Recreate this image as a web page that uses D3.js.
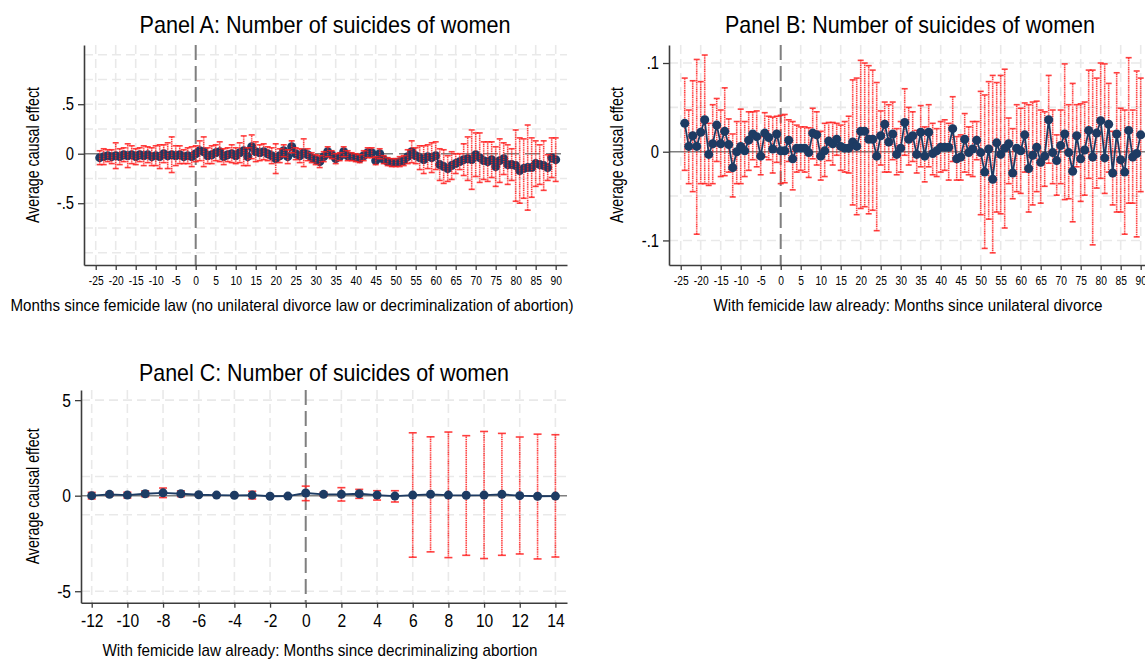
<!DOCTYPE html>
<html><head><meta charset="utf-8">
<script src="https://cdn.jsdelivr.net/npm/d3@7"></script>
<style>
body{margin:0;background:#fff}
svg text{font-family:"Liberation Sans",Arial,sans-serif;fill:#000}
</style></head><body>
<svg id="c" width="1145" height="659"></svg>
<script>
// ---------- Panel A data ----------
const monthsA = [-24,-23,-22,-21,-20,-19,-18,-17,-16,-15,-14,-13,-12,-11,-10,-9,-8,-7,-6,-5,-4,-3,-2,-1,0,1,2,3,4,5,6,7,8,9,10,11,12,13,14,15,16,17,18,19,20,21,22,23,24,25,26,27,28,29,30,31,32,33,34,35,36,37,38,39,40,41,42,43,44,45,46,47,48,49,50,51,52,53,54,55,56,57,58,59,60,61,62,63,64,65,66,67,68,69,70,71,72,73,74,75,76,77,78,79,80,81,82,83,84,85,86,87,88,89,90];
const estA = [-0.04,-0.03,-0.02,-0.03,-0.02,-0.03,-0.01,-0.02,-0.01,-0.03,-0.01,-0.02,-0.01,-0.03,-0.02,-0.03,0.00,-0.02,-0.01,-0.02,-0.01,-0.03,-0.02,-0.03,0.00,0.03,0.02,-0.02,-0.01,0.01,0.02,-0.03,-0.01,0.00,-0.02,0.01,0.03,-0.03,0.07,0.02,0.01,0.02,0.00,-0.02,-0.05,-0.02,0.03,-0.03,0.07,0.00,-0.02,0.01,-0.01,-0.04,-0.06,-0.08,-0.03,0.02,-0.01,-0.05,-0.03,0.02,-0.02,-0.03,-0.04,-0.05,-0.02,0.01,0.01,-0.07,0.00,-0.06,-0.08,-0.09,-0.09,-0.08,-0.07,-0.03,0.02,-0.02,-0.04,-0.06,-0.03,-0.04,-0.02,-0.11,-0.13,-0.15,-0.12,-0.10,-0.08,-0.06,-0.05,-0.06,-0.01,-0.04,-0.07,-0.08,-0.06,-0.13,-0.07,-0.05,-0.11,-0.11,-0.12,-0.17,-0.15,-0.14,-0.14,-0.10,-0.11,-0.12,-0.14,-0.04,-0.06];
const loA = [-0.11,-0.11,-0.08,-0.10,-0.15,-0.11,-0.08,-0.14,-0.10,-0.11,-0.08,-0.12,-0.09,-0.12,-0.12,-0.15,-0.09,-0.15,-0.19,-0.12,-0.10,-0.10,-0.10,-0.13,-0.08,-0.07,-0.13,-0.10,-0.10,-0.07,-0.08,-0.11,-0.08,-0.09,-0.10,-0.09,-0.12,-0.12,-0.05,-0.08,-0.07,-0.06,-0.07,-0.10,-0.20,-0.09,-0.03,-0.10,0.01,-0.06,-0.09,-0.13,-0.07,-0.09,-0.11,-0.14,-0.08,-0.03,-0.05,-0.10,-0.07,-0.03,-0.07,-0.07,-0.08,-0.09,-0.07,-0.04,-0.04,-0.11,-0.05,-0.10,-0.12,-0.13,-0.13,-0.13,-0.12,-0.10,-0.09,-0.10,-0.16,-0.20,-0.15,-0.19,-0.16,-0.27,-0.30,-0.28,-0.26,-0.20,-0.16,-0.22,-0.27,-0.36,-0.23,-0.29,-0.26,-0.28,-0.24,-0.33,-0.29,-0.21,-0.31,-0.27,-0.48,-0.50,-0.45,-0.57,-0.44,-0.33,-0.31,-0.37,-0.27,-0.24,-0.28];
const hiA = [0.03,0.05,0.04,0.04,0.11,0.05,0.06,0.10,0.08,0.05,0.06,0.08,0.07,0.06,0.08,0.09,0.09,0.11,0.17,0.08,0.08,0.04,0.06,0.07,0.08,0.13,0.17,0.06,0.08,0.09,0.12,0.05,0.06,0.09,0.06,0.11,0.18,0.06,0.19,0.12,0.09,0.10,0.07,0.06,0.10,0.05,0.09,0.04,0.13,0.06,0.05,0.15,0.05,0.01,-0.01,-0.02,0.02,0.07,0.03,0.00,0.01,0.07,0.03,0.01,0.00,-0.01,0.03,0.06,0.06,-0.03,0.05,-0.02,-0.04,-0.05,-0.05,-0.03,-0.02,0.04,0.13,0.06,0.08,0.08,0.09,0.11,0.12,0.05,0.04,-0.02,0.02,0.00,0.00,0.10,0.17,0.24,0.21,0.21,0.12,0.12,0.12,0.07,0.15,0.11,0.09,0.05,0.24,0.16,0.15,0.29,0.16,0.13,0.09,0.13,-0.01,0.16,0.16];
const xTicksA = [-25,-20,-15,-10,-5,0,5,10,15,20,25,30,35,40,45,50,55,60,65,70,75,80,85,90];
const yTicksA = [0.5,0,-0.5];
const yTickLabelsA = [".5","0","-.5"];
const yGridA = [1,0.75,0.5,0.25,-0.25,-0.5,-0.75,-1];

// ---------- Panel B data ----------
const monthsB = monthsA.slice();
const estB = [0.032,0.006,0.018,0.006,0.022,0.036,-0.003,0.009,0.030,0.009,0.023,0.008,-0.018,0.000,0.006,0.001,0.013,0.020,0.017,-0.005,0.021,0.016,0.003,0.020,0.001,0.001,0.013,-0.008,0.004,0.004,0.004,-0.001,0.021,0.019,-0.005,0.001,0.012,0.009,0.014,0.006,0.004,0.004,0.011,0.006,0.023,0.023,0.014,0.014,-0.005,0.018,0.031,0.011,0.020,-0.003,0.004,0.033,0.014,0.018,-0.003,0.022,-0.005,0.022,-0.002,0.001,0.005,0.005,0.005,0.026,-0.008,-0.006,0.014,-0.001,0.003,0.013,-0.001,-0.023,0.003,-0.031,0.010,-0.003,0.004,0.009,-0.024,0.004,0.001,0.019,-0.019,-0.004,0.005,-0.012,-0.005,0.036,-0.001,-0.010,0.007,0.020,-0.001,-0.022,0.018,-0.008,0.002,0.024,-0.006,0.021,0.035,-0.007,0.031,-0.024,0.020,-0.009,-0.023,0.024,-0.006,-0.002,0.019];
const loB = [-0.021,-0.036,-0.045,-0.093,-0.036,-0.036,-0.038,-0.036,-0.011,-0.028,-0.027,-0.023,-0.051,-0.036,-0.036,-0.028,-0.021,-0.009,-0.017,-0.026,-0.006,-0.009,-0.024,-0.012,-0.036,-0.035,-0.011,-0.043,-0.023,-0.021,-0.023,-0.029,-0.008,-0.015,-0.032,-0.028,-0.010,-0.015,-0.004,-0.021,-0.023,-0.024,-0.060,-0.071,-0.064,-0.062,-0.070,-0.066,-0.089,-0.015,-0.023,-0.023,-0.009,-0.026,-0.023,-0.004,-0.015,-0.011,-0.024,-0.017,-0.034,-0.017,-0.026,-0.028,-0.023,-0.021,-0.032,-0.011,-0.032,-0.032,-0.023,-0.026,-0.028,-0.009,-0.071,-0.109,-0.076,-0.114,-0.068,-0.070,-0.086,-0.036,-0.053,-0.045,-0.047,-0.023,-0.068,-0.060,-0.045,-0.058,-0.039,-0.013,-0.036,-0.049,-0.036,-0.054,-0.053,-0.079,-0.017,-0.056,-0.049,-0.030,-0.105,-0.041,-0.030,-0.047,-0.023,-0.060,-0.068,-0.068,-0.093,-0.058,-0.058,-0.096,-0.045];
const hiB = [0.083,0.047,0.080,0.104,0.079,0.109,0.032,0.053,0.060,0.047,0.072,0.037,0.020,0.034,0.048,0.034,0.045,0.045,0.046,0.017,0.044,0.040,0.039,0.040,0.041,0.042,0.036,0.034,0.030,0.028,0.028,0.027,0.049,0.045,0.023,0.032,0.033,0.033,0.032,0.030,0.034,0.040,0.081,0.083,0.103,0.100,0.097,0.092,0.078,0.046,0.056,0.053,0.056,0.026,0.034,0.071,0.050,0.045,0.024,0.052,0.028,0.053,0.032,0.026,0.034,0.036,0.032,0.062,0.017,0.019,0.043,0.028,0.034,0.034,0.068,0.064,0.079,0.086,0.078,0.086,0.093,0.038,0.026,0.053,0.049,0.055,0.053,0.056,0.057,0.047,0.045,0.086,0.047,0.019,0.047,0.099,0.053,0.077,0.053,0.054,0.056,0.092,0.092,0.083,0.100,0.099,0.077,0.023,0.089,0.049,0.047,0.106,0.047,0.091,0.083];
const xTicksB = xTicksA.slice();
const yTicksB = [0.1,0,-0.1];
const yTickLabelsB = [".1","0","-.1"];
const yGridB = [0.1,0.05,-0.05,-0.1];

// ---------- Panel C data ----------
const monthsC = [-12,-11,-10,-9,-8,-7,-6,-5,-4,-3,-2,-1,0,1,2,3,4,5,6,7,8,9,10,11,12,13,14];
const estC = [0.00,0.07,0.03,0.10,0.15,0.10,0.05,0.03,0.02,0.03,-0.03,-0.02,0.14,0.07,0.07,0.10,0.03,-0.02,0.03,0.07,0.03,0.02,0.03,0.07,0.00,-0.03,-0.02];
const loC = [-0.17,-0.03,-0.12,-0.05,-0.10,-0.05,0.00,-0.02,-0.03,-0.17,-0.10,-0.07,-0.26,-0.03,-0.28,-0.14,-0.23,-0.33,-3.22,-2.94,-3.24,-3.12,-3.29,-3.12,-3.05,-3.31,-3.21];
const hiC = [0.17,0.17,0.18,0.25,0.40,0.25,0.10,0.08,0.07,0.23,0.04,0.03,0.50,0.17,0.42,0.33,0.26,0.26,3.29,3.08,3.33,3.14,3.36,3.26,3.07,3.22,3.19];
const xTicksC = [-12,-10,-8,-6,-4,-2,0,2,4,6,8,10,12,14];
const yTicksC = [5,0,-5];
const yTickLabelsC = ["5","0","-5"];
const yGridC = [5,1,-1,-5];

const titles = ["Panel A: Number of suicides of women","Panel B: Number of suicides of women","Panel C: Number of suicides of women"];
const xTitles = ["Months since femicide law (no unilateral divorce law or decriminalization of abortion)",
  "With femicide law already: Months since unilateral divorce",
  "With femicide law already: Months since decriminalizing abortion"];
const yTitle = "Average causal effect";

const NAVY = "#1d3b63", RED = "#ff1f1f", AXIS = "#3c3c3c", GRID = "#e9e9e9", REF = "#7f7f7f";
const NARROW = 0.82;
const svg = d3.select("#c");

// emulate a narrow typeface by compressing glyphs horizontally
function narrow(sel, width){
  sel.each(function(){
    const w = width || this.getComputedTextLength() * NARROW;
    this.setAttribute("textLength", w);
    this.setAttribute("lengthAdjust", "spacingAndGlyphs");
  });
}

function panel(p){
  const g = svg.append("g");
  const x = d3.scaleLinear().domain(p.xDom).range(p.xRange);
  const y = d3.scaleLinear().domain(p.yDom).range(p.yRange);
  const top = p.yRange[1], bot = p.yRange[0];
  // grid
  g.selectAll(null).data(p.yGrid).enter().append("line")
    .attr("x1", p.xRange[0]).attr("x2", p.xRange[1])
    .attr("y1", d=>y(d)).attr("y2", d=>y(d))
    .attr("stroke", GRID).attr("stroke-width", 1.6).attr("stroke-dasharray", "9,5");
  g.selectAll(null).data(p.xTicks.filter(d=>d!==0)).enter().append("line")
    .attr("x1", d=>x(d)).attr("x2", d=>x(d)).attr("y1", top).attr("y2", bot)
    .attr("stroke", GRID).attr("stroke-width", 1.6).attr("stroke-dasharray", "9,5");
  // reference lines
  g.append("line").attr("x1", p.xRange[0]).attr("x2", p.xRange[1]).attr("y1", y(0)).attr("y2", y(0))
    .attr("stroke", REF).attr("stroke-width", 1.6).attr("stroke-dasharray", p.zeroDash);
  g.append("line").attr("x1", x(0)).attr("x2", x(0)).attr("y1", top).attr("y2", bot)
    .attr("stroke", REF).attr("stroke-width", 2).attr("stroke-dasharray", "15,6");

  const data = p.months.map((m,i)=>({m, v:p.est[i], lo:p.lo[i], hi:p.hi[i]}));
  const drawCI = ()=>{
    const ci = g.append("g").attr("stroke", RED).attr("stroke-opacity", 0.85).attr("stroke-width", 1.6);
    ci.selectAll(null).data(data).enter().append("line")
      .attr("x1", d=>x(d.m)).attr("x2", d=>x(d.m)).attr("y1", d=>y(d.lo)).attr("y2", d=>y(d.hi))
      .attr("stroke-dasharray", "1.2,0.6");
    ["lo","hi"].forEach(k=>{
      ci.selectAll(null).data(data).enter().append("line")
        .attr("x1", d=>x(d.m)-p.cap).attr("x2", d=>x(d.m)+p.cap)
        .attr("y1", d=>y(d[k])).attr("y2", d=>y(d[k]));
    });
  };
  if(!p.ciOnTop) drawCI();
  g.append("path").datum(data).attr("fill","none").attr("stroke", NAVY).attr("stroke-width", 1.8)
    .attr("d", d3.line().x(d=>x(d.m)).y(d=>y(d.v)));
  g.selectAll(null).data(data).enter().append("circle")
    .attr("cx", d=>x(d.m)).attr("cy", d=>y(d.v)).attr("r", p.r).attr("fill", NAVY);
  if(p.ciOnTop) drawCI();

  // axes
  const ax = g.append("g").attr("transform", `translate(0,${bot})`)
    .call(d3.axisBottom(x).tickValues(p.xTicks).tickSize(5).tickSizeOuter(0).tickPadding(p.xPad).tickFormat(d3.format("d")));
  const ay = g.append("g").attr("transform", `translate(${p.xRange[0]},0)`)
    .call(d3.axisLeft(y).tickValues(p.yTicks).tickSize(6).tickSizeOuter(0).tickPadding(4).tickFormat((d,i)=>p.yTickLabels[i]));
  [ax, ay].forEach(a=>{
    a.select(".domain").attr("stroke", AXIS).attr("stroke-width", 1.6);
    a.selectAll(".tick line").attr("stroke", AXIS).attr("stroke-width", 1.3);
    a.selectAll("text").attr("font-family", null).style("fill", "#000");
  });
  ax.selectAll("text").attr("font-size", p.xTickFs);
  ay.selectAll("text").attr("font-size", p.yTickFs);
  ax.selectAll(".tick text").text(d=>d<0 ? "-" + Math.abs(d) : String(d));
  narrow(ax.selectAll(".tick text"));
  narrow(ay.selectAll(".tick text"));

  // titles
  g.append("text").attr("x", p.titleX).attr("y", p.titleY).attr("text-anchor","middle")
    .attr("font-size", 24).text(p.title).call(narrow, p.titleW);
  g.append("text").attr("x", p.xTitleX).attr("y", p.xTitleY).attr("text-anchor","middle")
    .attr("font-size", p.xTitleFs).text(p.xTitle).call(narrow, p.xTitleW);
  g.append("text").attr("transform", `translate(${p.yTitleX},${(top+bot)/2}) rotate(-90)`)
    .attr("text-anchor","middle").attr("font-size", 18.5).text(yTitle).call(narrow, 136);
}

panel({months:monthsA, est:estA, lo:loA, hi:hiA,
  xDom:[-27.93, 92.83], xRange:[84, 567], yDom:[-1.124, 1.098], yRange:[265, 45],
  xTicks:xTicksA, yTicks:yTicksA, yTickLabels:yTickLabelsA, yGrid:yGridA,
  zeroDash:"15,6", cap:3, r:4.5, ciOnTop:true, xPad:6, xTickFs:12.5, yTickFs:18,
  title:titles[0], titleX:325, titleY:33, titleW:371, xTitle:xTitles[0], xTitleX:292, xTitleY:311, xTitleW:563, xTitleFs:17, yTitleX:39});

panel({months:monthsB, est:estB, lo:loB, hi:hiB,
  xDom:[-27.93, 91.08], xRange:[669, 1145], yDom:[-0.1277, 0.1203], yRange:[265, 45],
  xTicks:xTicksB, yTicks:yTicksB, yTickLabels:yTickLabelsB, yGrid:yGridB,
  zeroDash:null, cap:3, r:4.5, ciOnTop:false, xPad:6, xTickFs:12.5, yTickFs:18,
  title:titles[1], titleX:910, titleY:33, titleW:370, xTitle:xTitles[1], xTitleX:908, xTitleY:311, xTitleW:389, xTitleFs:17, yTitleX:623});

panel({months:monthsC, est:estC, lo:loC, hi:hiC,
  xDom:[-12.6, 14.65], xRange:[81, 567], yDom:[-5.60, 5.53], yRange:[602.7, 390],
  xTicks:xTicksC, yTicks:yTicksC, yTickLabels:yTickLabelsC, yGrid:yGridC,
  zeroDash:null, cap:4, r:4.5, ciOnTop:false, xPad:6, xTickFs:19, yTickFs:19,
  title:titles[2], titleX:324, titleY:381, titleW:370, xTitle:xTitles[2], xTitleX:320, xTitleY:656, xTitleW:435, xTitleFs:17, yTitleX:39});
</script></body></html>
